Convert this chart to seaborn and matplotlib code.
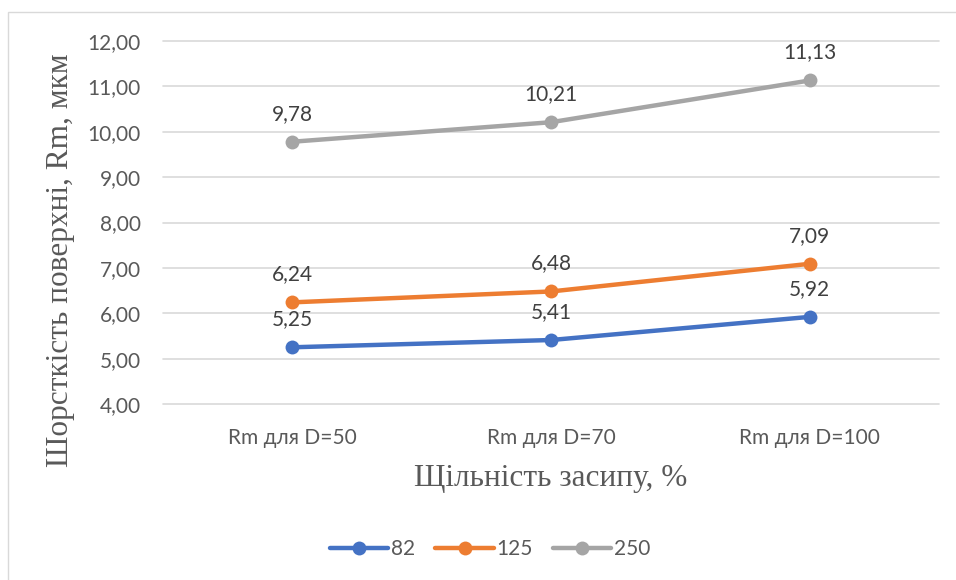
import matplotlib
matplotlib.use("Agg")
import matplotlib.pyplot as plt
import seaborn as sns
import pandas as pd
from matplotlib.patches import Rectangle

categories = ["Rm для D=50", "Rm для D=70", "Rm для D=100"]
series_names = ["82", "125", "250"]
values_82 = [5.25, 5.41, 5.92]
values_125 = [6.24, 6.48, 7.09]
values_250 = [9.78, 10.21, 11.13]
y_ticks = [4, 5, 6, 7, 8, 9, 10, 11, 12]

colors = {"82": "#4472C4", "125": "#ED7D31", "250": "#A5A5A5"}

rows = []
for name, vals in zip(series_names, [values_82, values_125, values_250]):
    for cat, v in zip(categories, vals):
        rows.append({"cat": cat, "value": v, "series": name})
df = pd.DataFrame(rows)

sns.set_theme(style="white")
plt.rcParams["font.family"] = ["Lato", "DejaVu Sans"]

fig = plt.figure(figsize=(9.56, 5.8), dpi=100)
fig.patch.set_facecolor("white")

# outer chart frame
fig.patches.append(Rectangle((8 / 956, -0.1), 1.2, 1 - 12 / 580 + 0.1,
                             transform=fig.transFigure, fill=False,
                             edgecolor="#D9D9D9", linewidth=1.0))

ax = fig.add_axes([163 / 956, 1 - 404 / 580, (939 - 163) / 956, (404 - 41) / 580])

sns.lineplot(data=df, x="cat", y="value", hue="series", hue_order=series_names,
             palette=colors, marker="o", markersize=10, markeredgewidth=0,
             linewidth=3.2, ax=ax, sort=False, legend=True)

ax.set_xlim(-0.5, 2.5)
ax.set_ylim(4, 12)
ax.set_yticks(y_ticks)
ax.set_yticklabels([f"{t:.2f}".replace(".", ",") for t in y_ticks])
for s in ax.spines.values():
    s.set_visible(False)
ax.grid(axis="y", color="#D9D9D9", linewidth=1.2)
ax.set_axisbelow(True)
for gl in ax.get_ygridlines():
    gl.set_clip_on(False)
ax.tick_params(axis="both", length=0, labelsize=15, colors="#595959")
ax.tick_params(axis="y", pad=16)
ax.tick_params(axis="x", pad=17)

for name, vals in zip(series_names, [values_82, values_125, values_250]):
    for i, v in enumerate(vals):
        ax.annotate(f"{v:.2f}".replace(".", ","), (i, v), xytext=(0, 13),
                    textcoords="offset points", ha="center", va="bottom",
                    fontsize=15, color="#404040")

ax.set_xlabel("Щільність засипу, %", family=["Liberation Serif"], fontsize=22.5,
              color="#595959", labelpad=12)
ax.set_ylabel("Шорсткість поверхні, Rm, мкм", family=["Liberation Serif"],
              fontsize=22.5, color="#595959", labelpad=8)
ax.yaxis.set_label_coords(-0.114, 0.395)

leg = ax.legend(loc="center", frameon=False,
                ncol=3, fontsize=15, handlelength=2.8, columnspacing=1.0,
                handletextpad=0.1)
leg.set_bbox_to_anchor((490 / 956, 1 - 549 / 580), transform=fig.transFigure)
for t in leg.get_texts():
    t.set_color("#595959")

fig.savefig("out.png", dpi=100, facecolor="white")
